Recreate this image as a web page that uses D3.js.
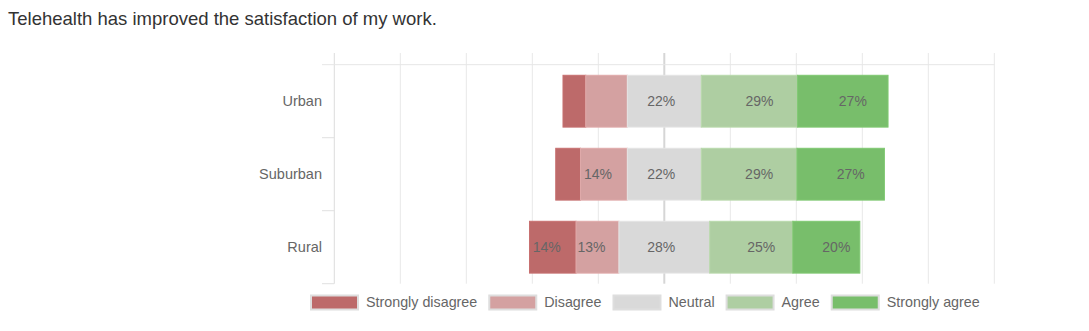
<!DOCTYPE html>
<html>
<head>
<meta charset="utf-8">
<script src="https://cdn.jsdelivr.net/npm/d3@7"></script>
<style>
  html, body { margin: 0; padding: 0; background: #fff; }
  svg { display: block; font-family: "Liberation Sans", Arial, sans-serif; }
</style>
</head>
<body>
<svg id="chart" width="1089" height="331"></svg>
<script>
const title = "Telehealth has improved the satisfaction of my work.";
const categories = ["Urban", "Suburban", "Rural"];
const responses = ["Strongly disagree", "Disagree", "Neutral", "Agree", "Strongly agree"];
const colors = ["#bd6a6a", "#d4a1a1", "#d9d9d9", "#aecea2", "#78be6b"];
const stronglyDisagree = [6.9, 7.5, 14.1];
const disagree = [12.6, 14.2, 13.0];
const neutral = [22.4, 22.4, 27.5];
const agree = [29.2, 29.0, 25.2];
const stronglyAgree = [27.4, 26.5, 20.3];
const xTicks = [-100, -80, -60, -40, -20, 0, 20, 40, 60, 80, 100];
const minLabelValue = 12.8;

const series = [stronglyDisagree, disagree, neutral, agree, stronglyAgree];
const svg = d3.select("#chart");

svg.append("text").attr("x", 8).attr("y", 25)
  .attr("font-size", 18.5).attr("fill", "#333").text(title);

const x = d3.scaleLinear().domain([-100, 100]).range([334.3, 994.3]);
const y = d3.scaleBand().domain(categories).range([64.7, 283.7])
  .paddingInner(0.29).paddingOuter(0.145);
const gridTop = 53, plotTop = 64.7, plotBottom = 283.7;

// vertical gridlines
svg.append("g").selectAll("line").data(xTicks).join("line")
  .attr("x1", d => x(d)).attr("x2", d => x(d))
  .attr("y1", gridTop).attr("y2", plotBottom)
  .attr("stroke", d => d === 0 ? "#d6d6d6" : d === -100 ? "#dcdcdc" : "#e8e8e8")
  .attr("stroke-width", d => d === 0 ? 2 : 1);

// top line
svg.append("line").attr("x1", 322).attr("x2", x(100))
  .attr("y1", plotTop).attr("y2", plotTop).attr("stroke", "#e6e6e6");

// left ticks at band boundaries
const bounds = categories.map(c => y(c) - y.step() * 0.145).concat([plotBottom]);
svg.append("g").selectAll("line").data(bounds.slice(1)).join("line")
  .attr("x1", 322).attr("x2", x(-100))
  .attr("y1", d => d).attr("y2", d => d).attr("stroke", "#e0e0e0");

// category labels
svg.append("g").selectAll("text").data(categories).join("text")
  .attr("x", 322).attr("y", d => y(d) + y.bandwidth() / 2 + 5)
  .attr("text-anchor", "end").attr("font-size", 14.5).attr("fill", "#666")
  .text(d => d);

// bars
const labelOffsets = [-6, -6, -3, 10, 10];
const segs = [];
categories.forEach((c, i) => {
  let start = -(stronglyDisagree[i] + disagree[i] + neutral[i] / 2);
  series.forEach((s, k) => {
    segs.push({ cat: c, k, v: s[i], x0: start, x1: start + s[i] });
    start += s[i];
  });
});

const gBars = svg.append("g");
gBars.selectAll("rect").data(segs).join("rect")
  .attr("x", d => x(d.x0)).attr("width", d => x(d.x1) - x(d.x0))
  .attr("y", d => y(d.cat)).attr("height", y.bandwidth())
  .attr("fill", d => colors[d.k])
  .attr("stroke", d => d3.color(colors[d.k]).brighter(0.15))
  .attr("stroke-width", 1);

gBars.selectAll("text").data(segs.filter(d => d.v >= minLabelValue)).join("text")
  .attr("x", d => (x(d.x0) + x(d.x1)) / 2 + labelOffsets[d.k])
  .attr("y", d => y(d.cat) + y.bandwidth() / 2 + 5)
  .attr("text-anchor", "middle").attr("font-size", 14).attr("fill", "#666")
  .text(d => Math.round(d.v) + "%");

// legend
const legend = svg.append("g");
let lx = 310;
responses.forEach((r, k) => {
  legend.append("rect").attr("x", lx + 1).attr("y", 295.5)
    .attr("width", 47).attr("height", 14)
    .attr("fill", colors[k]).attr("stroke", "#dedede").attr("stroke-width", 2);
  const t = legend.append("text").attr("x", lx + 56).attr("y", 307)
    .attr("font-size", 14.3).attr("fill", "#666").text(r);
  lx = lx + 56 + t.node().getComputedTextLength() + 11;
});
</script>
</body>
</html>
